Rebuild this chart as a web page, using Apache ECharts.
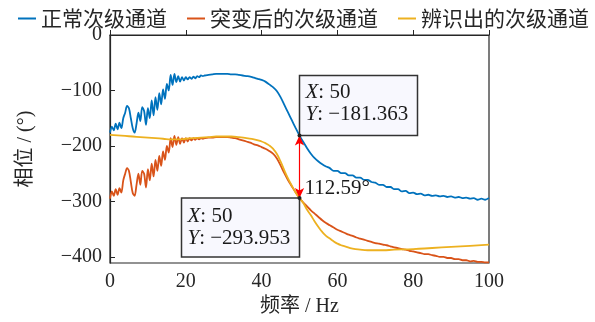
<!DOCTYPE html>
<html>
<head>
<meta charset="utf-8">
<script src="https://cdn.jsdelivr.net/npm/echarts@6/dist/echarts.min.js"></script>
<style>
html, body { margin: 0; padding: 0; background: #fff; }
#chart { width: 595px; height: 322px; }
</style>
</head>
<body>
<div id="chart"></div>
<script>
// Frequency grid (Hz) shared by the normal and the changed secondary path
const freqA = [
  0, 0.5, 1, 1.5, 2, 2.5, 3, 3.5, 4, 4.5, 5, 5.5, 6, 6.5, 7, 7.5, 8, 8.5, 9, 9.5,
  10, 10.5, 11, 11.5, 12, 12.5, 13, 13.5, 14, 14.5, 15, 15.5, 16, 16.5, 17, 17.5,
  18, 18.5, 19, 19.5, 20, 20.5, 21, 21.5, 22, 22.5, 23, 23.5, 24, 24.5, 25,
  26, 27, 28, 29, 30, 31, 32, 33, 34, 35, 36, 37, 38, 39, 40, 41, 42, 43, 44, 45,
  46, 47, 48, 49, 50, 51, 52, 53, 54, 55, 56, 57, 58, 59, 60, 61, 62, 63, 64, 65,
  66, 67, 68, 69, 70, 71, 72, 73, 74, 75, 76, 77, 78, 79, 80, 81, 82, 83, 84, 85,
  86, 87, 88, 89, 90, 91, 92, 93, 94, 95, 96, 97, 98, 99, 100
];

// Phase of the normal secondary path (deg)
const phaseNormal = [
  -176, -165, -172, -160, -170, -158, -168, -150, -140, -128, -132, -150, -168, -176, -160, -140, -155, -130, -137, -162,
  -132, -150, -118, -145, -112, -135, -105, -125, -98, -115, -88, -100, -72, -90, -70, -85,
  -74, -84, -76, -82, -76, -80, -76, -79, -75, -78, -74, -76, -73, -74, -73,
  -72, -71, -70, -70, -70, -70, -71, -71, -72, -73, -74, -75, -77, -79, -81, -84, -89, -94, -101, -112,
  -126, -140, -154, -168, -181.363, -193, -204, -214, -222, -228, -233, -237, -240, -245, -245, -249, -249, -253, -253, -257,
  -257, -261, -261, -265, -266, -270, -270, -274, -274, -278, -278, -282, -281, -285, -284, -287, -286, -289, -288, -290,
  -289, -291, -290, -292, -291, -293, -292, -294, -293, -295, -294, -297, -295, -297, -294
];

// Phase of the secondary path after the sudden change (deg)
const phaseChanged = [
  -295, -282, -290, -278, -288, -276, -284, -262, -250, -240, -245, -265, -285, -290, -270, -250, -270, -245, -250, -275,
  -242, -262, -232, -255, -225, -245, -218, -236, -210, -225, -200, -212, -186, -202, -182, -198,
  -184, -196, -186, -194, -186, -192, -186, -190, -186, -189, -186, -188, -186, -187, -186,
  -185, -185, -184, -184, -184, -184, -185, -186, -188, -190, -192, -194, -197, -199, -202, -205, -209, -214, -222, -235,
  -249, -262, -273, -284, -293.953, -302, -309, -316, -322, -328, -334, -339, -343, -347, -351, -354, -357, -360, -362, -365,
  -367, -369, -371, -373, -375, -376, -378, -379, -381, -383, -384, -386, -387, -389, -390, -392, -393, -395, -395, -397,
  -398, -400, -400, -402, -402, -404, -404, -406, -406, -408, -407, -409, -409, -410, -410
];

// Frequency grid (Hz) of the identified secondary path
const freqB = [
  0, 2, 4, 6, 8, 10, 12, 14, 16, 18, 20, 22, 24, 26, 28, 30, 32, 34, 36, 38,
  40, 41, 42, 43, 44, 45, 46, 47, 48, 49, 50, 51, 52, 53, 54, 55, 56, 57, 58, 59,
  60, 61, 62, 64, 66, 68, 70, 72, 75, 80, 85, 90, 95, 100
];

// Phase of the identified secondary path (deg)
const phaseIdentified = [
  -180, -181, -182, -183, -184, -185, -186, -187, -188, -188, -187, -186, -185, -184, -183, -183, -183, -184, -186, -188,
  -192, -195, -199, -205, -214, -228, -244, -259, -272, -284, -293.953, -303, -315, -325, -336, -346, -355, -362, -367, -372,
  -376, -379, -381, -385, -387, -388, -388, -388, -387, -386, -384, -382, -380, -378
];

// Axis ticks
const xTicks = [0, 20, 40, 60, 80, 100];
const yTicks = [0, -100, -200, -300, -400];

// Data tips at 50 Hz and the phase gap between them
const tipFreq = 50;
const tipNormal = -181.363;
const tipIdentified = -293.953;

const seriesNames = ['正常次级通道', '突变后的次级通道', '辨识出的次级通道'];
const colors = ['#0072BD', '#D95319', '#EDB120'];

const serif = "'Liberation Serif', 'Times New Roman', 'Noto Sans CJK SC', serif";
const mixed = "'Liberation Serif', 'Noto Sans CJK SC', serif";
const cjk = "'Noto Sans CJK SC', sans-serif";
const ink = '#262626';

const minus = v => (v < 0 ? '\u2212' + Math.abs(v) : String(v));
const pair = (xs, ys) => xs.map((x, i) => [x, ys[i]]);

const chart = echarts.init(document.getElementById('chart'), null, { renderer: 'canvas' });

const baseLine = (name, color, data, smooth) => ({
  name: name,
  type: 'line',
  data: data,
  showSymbol: false,
  symbol: 'none',
  smooth: smooth,
  lineStyle: { color: color, width: 1.8 },
  itemStyle: { color: color },
  z: 3
});

const identified = baseLine(seriesNames[2], colors[2], pair(freqB, phaseIdentified), true);
identified.markLine = {
  silent: true,
  symbol: ['arrow', 'arrow'],
  symbolSize: [7, 10],
  label: { show: false },
  lineStyle: { color: '#ff0000', width: 1.2, type: 'solid' },
  data: [[{ coord: [tipFreq, tipNormal] }, { coord: [tipFreq, tipIdentified] }]],
  animation: false
};

chart.setOption({
  animation: false,
  color: colors,
  legend: {
    data: seriesNames,
    left: 13,
    top: 3,
    itemWidth: 18,
    itemHeight: 12,
    itemGap: 20,
    icon: 'path://M0,5 L18,5 L18,7 L0,7 Z',
    textStyle: { fontFamily: cjk, fontSize: 21, color: ink }
  },
  grid: {
    left: 110, right: 106, top: 35, bottom: 59,
    show: true, borderColor: ink, borderWidth: 1.2, backgroundColor: 'transparent'
  },
  xAxis: {
    type: 'value',
    min: 0, max: 100, interval: 20,
    name: '频率 / Hz',
    nameLocation: 'middle',
    nameGap: 29,
    nameTextStyle: { fontFamily: mixed, fontSize: 20, color: ink },
    axisLine: { show: true, lineStyle: { color: ink, width: 1.2 } },
    axisTick: { show: true, inside: true, length: 5, lineStyle: { color: ink } },
    axisLabel: { fontFamily: serif, fontSize: 20, color: ink, margin: 9, formatter: minus,
                 customValues: xTicks },
    splitLine: { show: false }
  },
  yAxis: {
    type: 'value',
    min: -411, max: 0,
    name: '相位 / (°)',
    nameLocation: 'middle',
    nameGap: 74,
    nameRotate: 90,
    nameTextStyle: { fontFamily: mixed, fontSize: 20, color: ink },
    axisLine: { show: true, lineStyle: { color: ink, width: 1.2 } },
    axisTick: { show: true, inside: true, length: 5, lineStyle: { color: ink }, customValues: yTicks },
    axisLabel: { fontFamily: serif, fontSize: 20, color: ink, margin: 8, formatter: minus,
                 customValues: yTicks },
    splitLine: { show: false }
  },
  series: [
    baseLine(seriesNames[0], colors[0], pair(freqA, phaseNormal), 0.3),
    baseLine(seriesNames[1], colors[1], pair(freqA, phaseChanged), 0.3),
    identified
  ]
});

// Data-tip boxes and the phase-gap label, positioned from data values
const pTop = chart.convertToPixel({ gridIndex: 0 }, [tipFreq, tipNormal]);
const pBot = chart.convertToPixel({ gridIndex: 0 }, [tipFreq, tipIdentified]);
const boxW = 118, boxH = 60;
const tipRich = { it: { fontStyle: 'italic', fontFamily: serif, fontSize: 21, fill: '#1a1a1a' } };
const tipText = (x, y, val) => ({
  type: 'text', x: x, y: y, z: 20, silent: true,
  style: {
    text: '{it|X}: ' + tipFreq + '\n{it|Y}: ' + minus(val),
    fontFamily: serif, fontSize: 21, lineHeight: 22, fill: '#1a1a1a',
    verticalAlign: 'top', align: 'left', rich: tipRich
  }
});
const gap = (tipNormal - tipIdentified).toFixed(2) + '°';

chart.setOption({
  graphic: [
    { type: 'rect', z: 15, silent: true,
      shape: { x: pTop[0], y: pTop[1] - boxH, width: boxW, height: boxH },
      style: { fill: '#f8f8fe', stroke: '#333', lineWidth: 1.5 } },
    tipText(pTop[0] + 6, pTop[1] - boxH + 6, tipNormal),
    { type: 'rect', z: 15, silent: true,
      shape: { x: pBot[0] - boxW, y: pBot[1], width: boxW, height: boxH - 1 },
      style: { fill: '#f8f8fe', stroke: '#333', lineWidth: 1.5 } },
    tipText(pBot[0] - boxW + 6, pBot[1] + 7, tipIdentified),
    { type: 'circle', z: 16, silent: true, shape: { cx: pTop[0], cy: pTop[1], r: 2 }, style: { fill: '#222' } },
    { type: 'circle', z: 16, silent: true, shape: { cx: pBot[0], cy: pBot[1], r: 2 }, style: { fill: '#222' } },
    { type: 'text', z: 20, silent: true, x: pBot[0] + 5, y: pBot[1] - 10,
      style: { text: gap, fontFamily: serif, fontSize: 21, fill: '#1a1a1a', verticalAlign: 'middle', align: 'left' } }
  ]
});
</script>
</body>
</html>
